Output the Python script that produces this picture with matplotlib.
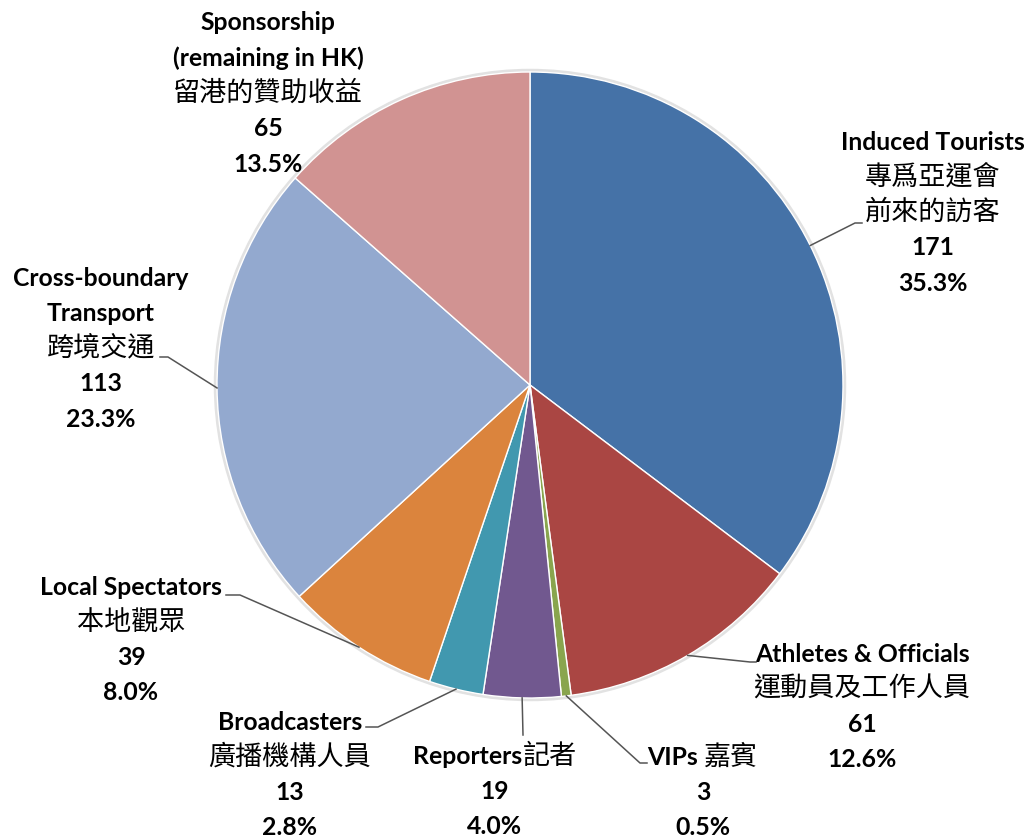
import re
import numpy as np
import matplotlib
matplotlib.use("Agg")
import matplotlib.pyplot as plt
from matplotlib.patches import Circle

# data (clockwise from 12 o'clock)
label_lines = [
    ["Induced Tourists", "專爲亞運會", "前來的訪客"],
    ["Athletes & Officials", "運動員及工作人員"],
    ["VIPs 嘉賓"],
    ["Reporters記者"],
    ["Broadcasters", "廣播機構人員"],
    ["Local Spectators", "本地觀眾"],
    ["Cross-boundary", "Transport", "跨境交通"],
    ["Sponsorship", "(remaining in HK)", "留港的贊助收益"],
]
values = [171, 61, 3, 19, 13, 39, 113, 65]
percents = [35.3, 12.6, 0.5, 4.0, 2.8, 8.0, 23.3, 13.5]
colors = ["#4572A7", "#AA4643", "#89A54E", "#71588F",
          "#4198AF", "#DB843D", "#93A9CF", "#D19392"]

# layout (pixel coords, y downward)
center = (530, 385)
radius = 313
label_pos = [(933, 142), (862, 654), (703, 757), (495, 756),
             (290, 722), (131, 587), (101, 278), (268, 23)]
line_gap = 35.3
elbows = [[(855, 223), (862, 223)], [(750, 662), (756, 662)],
          [(640, 763), (647, 763)], [(523, 735)],
          [(378, 727), (366, 727)], [(240, 595), (226, 595)],
          [(168, 357), (160, 357)], None]

EN = dict(family="Lato", weight="bold", size=17.8)
ZH = dict(family=["Noto Sans CJK TC", "DejaVu Sans"], weight="normal", size=19.5)
cjk = re.compile(r"([\u3000-\u9fff\uff00-\uffef]+)")

fig = plt.figure(figsize=(10.32, 8.38), dpi=100)
ax = fig.add_axes([0, 0, 1, 1])

# faint shadow ring like the Excel original
ax.add_patch(Circle(center, radius + 1.5, facecolor="none", edgecolor="#e2e2e2", lw=2.5, zorder=0))
wedges, _ = ax.pie(percents, colors=colors, startangle=270, counterclock=True,
                   center=center, radius=radius,
                   wedgeprops=dict(edgecolor="white", linewidth=1))
ax.set_xlim(0, 1032)
ax.set_ylim(838, 0)
ax.set_aspect("equal")
ax.axis("off")

renderer = fig.canvas.get_renderer()


def draw_line(x, y, s):
    parts = [p for p in cjk.split(s) if p]
    if len(parts) == 1:
        style = ZH if cjk.fullmatch(s) else EN
        ax.text(x, y, s, ha="center", va="center", **style)
        return
    texts = []
    for p in parts:
        style = ZH if cjk.fullmatch(p) else EN
        texts.append(ax.text(0, y, p, ha="left", va="center", **style))
    widths = [t.get_window_extent(renderer).width for t in texts]
    cur = x - sum(widths) / 2
    for t, w in zip(texts, widths):
        t.set_x(cur)
        cur += w


for i, w in enumerate(wedges):
    lx, ly = label_pos[i]
    lines = label_lines[i] + [str(values[i]), f"{percents[i]:.1f}%"]
    for k, s in enumerate(lines):
        draw_line(lx, ly + k * line_gap, s)
    if elbows[i] is not None:
        # leader line starts at the middle of the wedge's outer edge
        mid = np.deg2rad((w.theta1 + w.theta2) / 2)
        sx = center[0] + radius * np.cos(mid)
        sy = center[1] + radius * np.sin(mid)
        xs = [sx] + [p[0] for p in elbows[i]]
        ys = [sy] + [p[1] for p in elbows[i]]
        ax.plot(xs, ys, color="#555555", lw=1.1, zorder=3)

fig.savefig("out.png", dpi=100)
